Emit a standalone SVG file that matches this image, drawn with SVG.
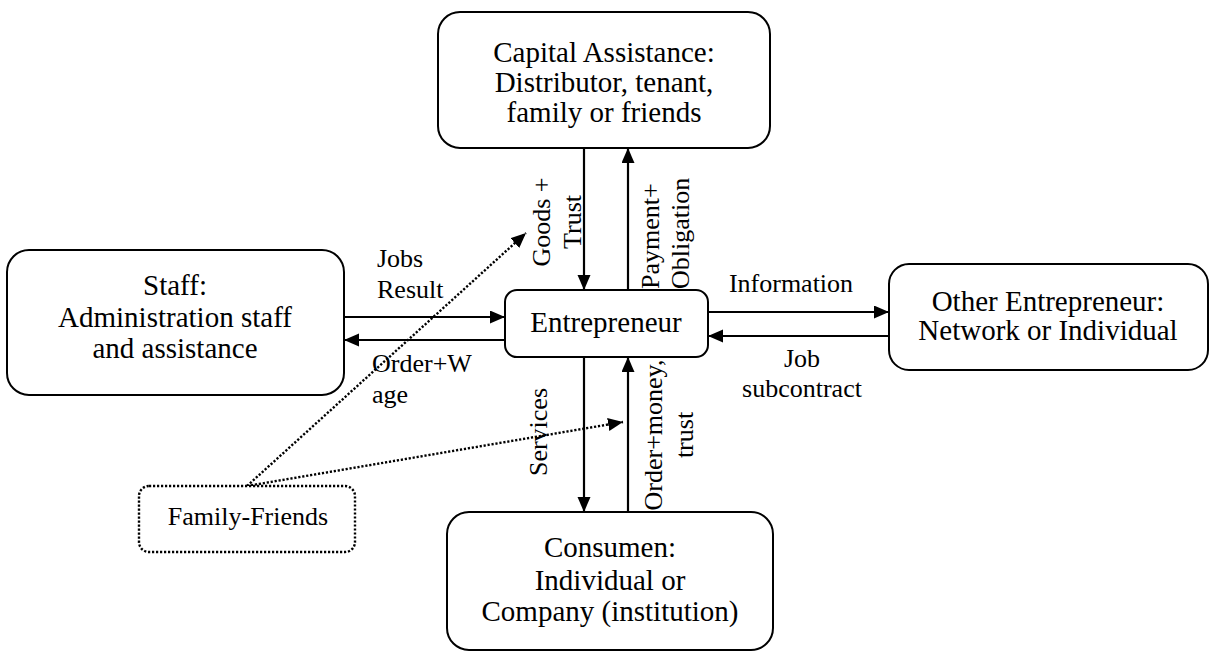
<svg xmlns="http://www.w3.org/2000/svg" width="1214" height="654" viewBox="0 0 1214 654">
  <style>
    .box { fill: #ffffff; stroke: #000000; stroke-width: 2; }
    .dotbox { fill: #ffffff; stroke: #000000; stroke-width: 2.4; stroke-dasharray: 2.2 1.8; }
    .main { font-family: "Liberation Serif", "Times New Roman", serif; font-size: 29px; fill: #000000; text-anchor: middle; }
    .lbl { font-family: "Liberation Serif", "Times New Roman", serif; font-size: 26px; fill: #000000; }
    .mid { text-anchor: middle; }
    .flow { stroke: #000000; stroke-width: 2.2; fill: none; marker-end: url(#arrow); }
    .dotted { stroke: #000000; stroke-width: 2.4; stroke-dasharray: 2.2 1.8; fill: none; marker-end: url(#arrow); }
  </style>
  <defs>
    <marker id="arrow" markerUnits="userSpaceOnUse" markerWidth="16" markerHeight="14" refX="15" refY="6.5" orient="auto">
      <path d="M0,0 L15,6.5 L0,13 Z" fill="#000000" stroke="none"/>
    </marker>
  </defs>

  <rect width="1214" height="654" fill="#ffffff"/>

  <!-- connectors -->
  <g id="connectors">
    <!-- capital assistance <-> entrepreneur -->
    <line class="flow" x1="584" y1="148" x2="584" y2="290"/>
    <line class="flow" x1="628" y1="290" x2="628" y2="148"/>
    <!-- staff <-> entrepreneur -->
    <line class="flow" x1="344" y1="317" x2="505" y2="317"/>
    <line class="flow" x1="505" y1="340" x2="344" y2="340"/>
    <!-- entrepreneur <-> other entrepreneur -->
    <line class="flow" x1="708" y1="312" x2="889" y2="312"/>
    <line class="flow" x1="889" y1="336" x2="708" y2="336"/>
    <!-- entrepreneur <-> consumen -->
    <line class="flow" x1="584" y1="357" x2="584" y2="512"/>
    <line class="flow" x1="628" y1="512" x2="628" y2="357"/>
    <!-- family-friends influence -->
    <line class="dotted" x1="247" y1="486" x2="526" y2="233"/>
    <line class="dotted" x1="247" y1="486" x2="623" y2="422"/>

    <!-- connector labels -->
    <text class="lbl mid" transform="translate(550,222) rotate(-90)">Goods +</text>
    <text class="lbl mid" transform="translate(581,222) rotate(-90)">Trust</text>
    <text class="lbl" transform="translate(659,289) rotate(-90)">Payment+</text>
    <text class="lbl" transform="translate(689,289) rotate(-90)">Obligation</text>
    <text class="lbl" x="377" y="267">Jobs</text>
    <text class="lbl" x="377" y="298">Result</text>
    <text class="lbl" x="372" y="372">Order+W</text>
    <text class="lbl" x="372" y="403">age</text>
    <text class="lbl mid" x="791" y="292">Information</text>
    <text class="lbl mid" x="802" y="367">Job</text>
    <text class="lbl mid" x="802" y="397">subcontract</text>
    <text class="lbl mid" transform="translate(547,432) rotate(-90)">Services</text>
    <text class="lbl mid" transform="translate(662,435) rotate(-90)">Order+money,</text>
    <text class="lbl mid" transform="translate(693,435) rotate(-90)">trust</text>
  </g>

  <g id="capital-assistance">
    <rect class="box" x="438" y="12" width="332" height="136" rx="22"/>
    <text class="main" x="604" y="62">Capital Assistance:</text>
    <text class="main" x="604" y="92">Distributor, tenant,</text>
    <text class="main" x="604" y="122">family or friends</text>
  </g>

  <g id="staff">
    <rect class="box" x="7" y="250" width="337" height="145" rx="22"/>
    <text class="main" x="175" y="295">Staff:</text>
    <text class="main" x="175" y="327">Administration staff</text>
    <text class="main" x="175" y="358">and assistance</text>
  </g>

  <g id="entrepreneur">
    <rect class="box" x="505" y="290" width="203" height="67" rx="12"/>
    <text class="main" x="606" y="332">Entrepreneur</text>
  </g>

  <g id="other-entrepreneur">
    <rect class="box" x="889" y="264" width="319" height="106" rx="20"/>
    <text class="main" x="1048" y="311">Other Entrepreneur:</text>
    <text class="main" x="1048" y="340">Network or Individual</text>
  </g>

  <g id="consumen">
    <rect class="box" x="447" y="512" width="326" height="138" rx="22"/>
    <text class="main" x="610" y="557">Consumen:</text>
    <text class="main" x="610" y="590">Individual or</text>
    <text class="main" x="610" y="621">Company (institution)</text>
  </g>

  <g id="family-friends">
    <rect class="dotbox" x="139" y="486" width="216" height="66" rx="10"/>
    <text class="lbl mid" x="248" y="525">Family-Friends</text>
  </g>
</svg>
